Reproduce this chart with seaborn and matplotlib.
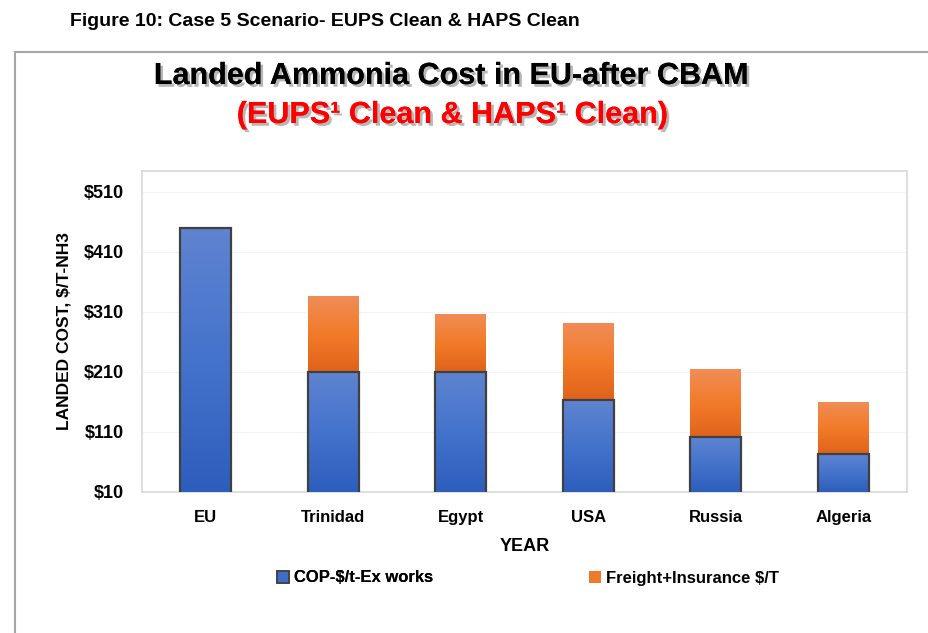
import numpy as np
import pandas as pd
import seaborn as sns
import matplotlib.pyplot as plt
import matplotlib.patheffects as pe
from matplotlib.patches import Rectangle, Patch
from matplotlib.colors import LinearSegmentedColormap

# values ($/t NH3)
countries = ["EU", "Trinidad", "Egypt", "USA", "Russia", "Algeria"]
cop_ex_works = [450, 210, 210, 163, 102, 73]
freight_insurance = [0, 127, 97, 129, 113, 87]
y_ticks = [10, 110, 210, 310, 410, 510]

df = pd.DataFrame({"country": countries, "cop": cop_ex_works, "freight": freight_insurance})
df["total"] = df["cop"] + df["freight"]

sns.set_theme(style="white")
plt.rcParams['font.family'] = ['Liberation Sans', 'DejaVu Sans']
plt.rcParams['text.color'] = 'black'
plt.rcParams['axes.labelcolor'] = 'black'
plt.rcParams['xtick.color'] = 'black'
plt.rcParams['ytick.color'] = 'black'

fig = plt.figure(figsize=(9.29, 6.33), dpi=100)
ax = fig.add_axes([142 / 929, 1 - 492 / 633, 765 / 929, 321 / 633])

# orange totals first, blue cost of production drawn over them
sns.barplot(data=df, x="country", y="total", color="#EE7A2C", width=0.4,
            saturation=1, linewidth=0, ax=ax)
n_orange = len(ax.patches)
sns.barplot(data=df, x="country", y="cop", color="#3F6DC6", width=0.4,
            saturation=1, edgecolor="#404040", linewidth=1.6, ax=ax)

# soft vertical gradients like the Excel fill; the bar itself keeps only its outline
blue_cmap = LinearSegmentedColormap.from_list("b", ["#2D5EBC", "#4473CC", "#5F84D0"])
orange_cmap = LinearSegmentedColormap.from_list("o", ["#E0621A", "#F27B29", "#F08D58"])
grad = np.linspace(0, 1, 256).reshape(-1, 1)
for i, p in enumerate(ax.patches):
    if p.get_height() <= 0:
        continue
    x0, y0 = p.get_x(), p.get_y()
    w, h = p.get_width(), p.get_height()
    if i < n_orange:
        cmap, y_lo, z = orange_cmap, df["cop"].iloc[i], 2.0
    else:
        cmap, y_lo, z = blue_cmap, 10, 3.0
    im = ax.imshow(grad, cmap=cmap, aspect="auto", origin="lower",
                   extent=[x0, x0 + w, max(y_lo, 10), y0 + h], zorder=z)
    im.set_clip_path(p)
    p.set_zorder(z + 0.5)
    p.set_facecolor("none")

ax.set_ylim(10, 545)
ax.set_xlim(-0.5, 5.5)
ax.set_yticks(y_ticks)
ax.set_yticklabels([f"${v}" for v in y_ticks], fontsize=13, fontweight="bold")
ax.set_xticks(range(len(countries)))
ax.set_xticklabels(countries, fontsize=12, fontweight="bold")
ax.tick_params(axis="x", length=0, pad=13)
ax.tick_params(axis="y", length=0, pad=13)
ax.yaxis.grid(True, color="#F4F4F4", linewidth=0.8)
ax.set_axisbelow(True)
for s in ax.spines.values():
    s.set_color("#D9D9D9")
    s.set_linewidth(1.2)
ax.set_xlabel("YEAR", fontsize=13, fontweight="bold", labelpad=9)
ax.set_ylabel("LANDED COST, $/T-NH3", fontsize=12.5, fontweight="bold", labelpad=9)

# outer chart border
fig.patches.append(Rectangle((15 / 929, -0.05), 1.0, 1 - 52 / 633 + 0.05,
                             transform=fig.transFigure, fill=False,
                             edgecolor="#A6A6A6", linewidth=1.5))

fig.text(70 / 929, 1 - 22 / 633, "Figure 10: Case 5 Scenario- EUPS Clean & HAPS Clean",
         fontsize=14, fontweight="bold", va="center", ha="left")

shadow = [pe.withSimplePatchShadow(offset=(2, -2), shadow_rgbFace="#888888", alpha=0.6), pe.Normal()]
fig.text(451 / 929, 1 - 76 / 633, "Landed Ammonia Cost in EU-after CBAM",
         fontsize=22, fontweight="bold", ha="center", va="center", color="black",
         path_effects=shadow)
fig.text(452 / 929, 1 - 115 / 633, "(EUPS\u00b9 Clean & HAPS\u00b9 Clean)",
         fontsize=22, fontweight="bold", ha="center", va="center", color="#FF0000",
         path_effects=shadow)

legend_kw = dict(loc="center left", frameon=False, prop={"weight": "bold", "size": 12},
                 handlelength=0.7, handleheight=0.7, handletextpad=0.3, borderpad=0,
                 borderaxespad=0)
leg1 = fig.legend([Patch(facecolor="#3F6DC6", edgecolor="#404040", linewidth=1.2)],
                  ["COP-$/t-Ex works"], bbox_to_anchor=(277 / 929, 1 - 578 / 633), **legend_kw)
fig.add_artist(leg1)
fig.legend([Patch(facecolor="#EE7A2C", edgecolor="none")],
           ["Freight+Insurance $/T"], bbox_to_anchor=(589 / 929, 1 - 578 / 633), **legend_kw)

fig.savefig("out.png", dpi=100)
